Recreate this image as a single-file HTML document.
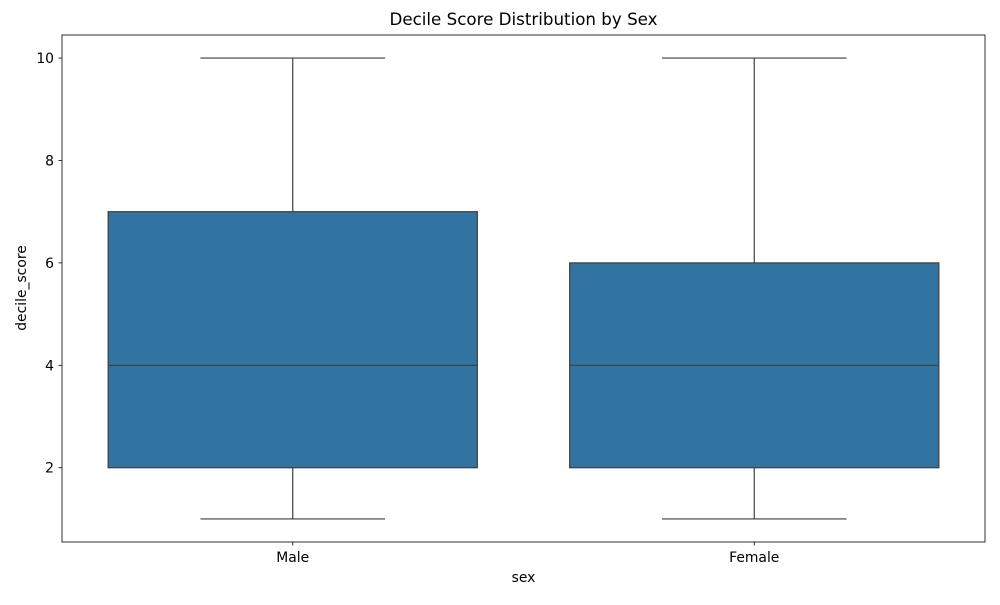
<!DOCTYPE html>
<html><head><meta charset="utf-8"><style>
body{margin:0;background:#fff;font-family:"Liberation Sans","DejaVu Sans",sans-serif;}
svg text{font-family:"DejaVu Sans","Liberation Sans",sans-serif;}
</style></head><body>
<svg id="chart" width="1000" height="600" xmlns="http://www.w3.org/2000/svg">
<rect width="1000" height="600" fill="#fff"/>
<text x="523.5" y="25" font-size="16.7" text-anchor="middle">Decile Score Distribution by Sex</text>
<g id="plot"></g>
<rect x="62" y="35" width="923" height="507" fill="none" stroke="#000" stroke-width="0.8"/>
<text x="523.5" y="582" font-size="13.9" text-anchor="middle">sex</text>
<text transform="translate(26,288) rotate(-90)" font-size="13.9" text-anchor="middle">decile_score</text>
</svg>
<script>
const categories = ["Male", "Female"];
const whiskerLow = [1, 1];
const q1 = [2, 2];
const medians = [4, 4];
const q3 = [7, 6];
const whiskerHigh = [10, 10];
const yTicks = [2, 4, 6, 8, 10];

const L=62,R=985,T=35,B=542,yMin=0.55,yMax=10.45;
const sx = i => L + (i + 0.5) * (R - L) / categories.length;
const sy = v => B - (v - yMin) / (yMax - yMin) * (B - T);
const step = (R - L) / categories.length;
const NS="http://www.w3.org/2000/svg";
const g=document.getElementById('plot');
function mk(tag, attrs){const e=document.createElementNS(NS,tag);for(const k in attrs)e.setAttribute(k,attrs[k]);g.appendChild(e);return e;}
const lc="#3f3f3f";
yTicks.forEach(t=>{
  const y=sy(t);
  const l=mk('line',{x1:L-3.5,x2:L,y1:y,y2:y,stroke:'#000','stroke-width':0.8});
  
  
  const tx=mk('text',{x:L-8,y:y+5,'font-size':13.9,'text-anchor':'end'});
  tx.textContent=t;
  
  
});
categories.forEach((c,i)=>{
  const x=sx(i), bw=step*0.8, cw=step*0.4;
  const w1=mk('line',{x1:x,x2:x,y1:sy(whiskerLow[i]),y2:sy(q1[i]),stroke:lc,'stroke-width':1.2});
  
  
  const w2=mk('line',{x1:x,x2:x,y1:sy(q3[i]),y2:sy(whiskerHigh[i]),stroke:lc,'stroke-width':1.2});
  
  
  const c1=mk('line',{x1:x-cw/2,x2:x+cw/2,y1:sy(whiskerLow[i]),y2:sy(whiskerLow[i]),stroke:lc,'stroke-width':1.2});
  
  
  const c2=mk('line',{x1:x-cw/2,x2:x+cw/2,y1:sy(whiskerHigh[i]),y2:sy(whiskerHigh[i]),stroke:lc,'stroke-width':1.2});
  
  
  const b=mk('rect',{x:x-bw/2,y:sy(q3[i]),width:bw,height:sy(q1[i])-sy(q3[i]),fill:'#3274a1',stroke:lc,'stroke-width':1.2});
  
  
  const m=mk('line',{x1:x-bw/2,x2:x+bw/2,y1:sy(medians[i]),y2:sy(medians[i]),stroke:lc,'stroke-width':1.2});
  
  
  const tk=mk('line',{x1:x,x2:x,y1:B,y2:B+3.5,stroke:'#000','stroke-width':0.8});
  
  
  const tx=mk('text',{x:x,y:B+20,'font-size':13.9,'text-anchor':'middle'});
  tx.textContent=c;
  
  
});
</script>
</body></html>
